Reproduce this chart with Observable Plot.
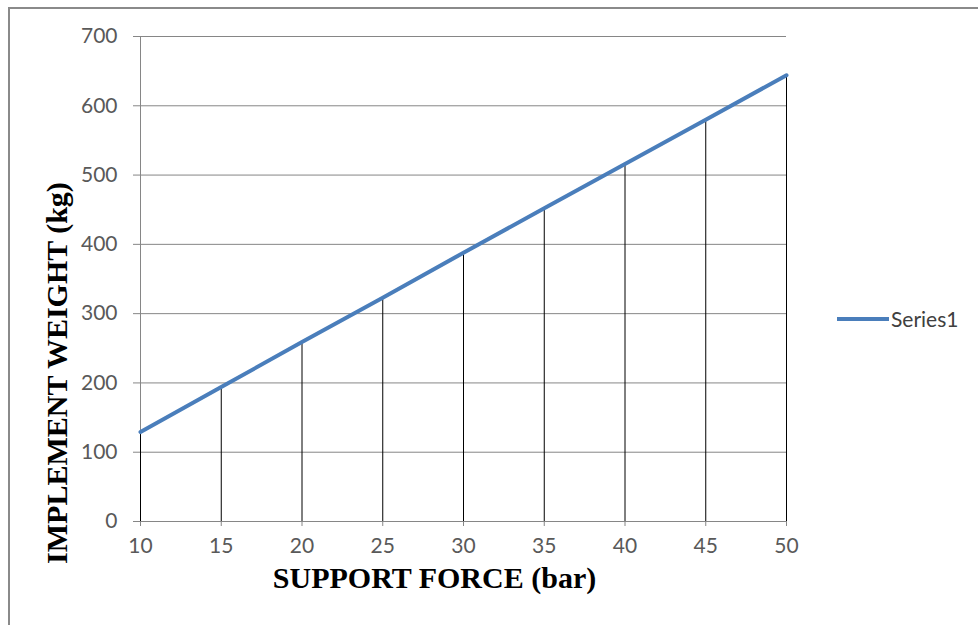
<!DOCTYPE html>
<html>
<head>
<meta charset="utf-8">
<script src="https://cdn.jsdelivr.net/npm/d3@7"></script>
<script src="https://cdn.jsdelivr.net/npm/@observablehq/plot@0.6"></script>
<style>
  html, body { margin: 0; padding: 0; background: #fff; }
  #wrap { position: relative; width: 978px; height: 625px; overflow: hidden; }
  #frame { position: absolute; left: 8px; top: 7px; width: 1000px; height: 700px; border-left: 2px solid #8a8a8a; border-top: 2px solid #8a8a8a; box-sizing: border-box; }
  #legend { position: absolute; left: 837px; top: 306px; display: flex; align-items: center; font-family: Lato, "Open Sans", sans-serif; font-size: 21px; color: #404040; }
  #legend .sw { width: 52px; height: 4px; background: #4a7ebb; margin-right: 2px; }
  svg { position: absolute; left: 0; top: 0; }
</style>
</head>
<body>
<div id="wrap">
  <div id="frame"></div>
  <div id="chart"></div>
  <div id="legend"><span class="sw"></span><span>Series1</span></div>
</div>
<script>
const force = [10, 15, 20, 25, 30, 35, 40, 45, 50];
const weight = [129, 194, 259, 323, 388, 452, 516, 580, 644];
const xTicks = [10, 15, 20, 25, 30, 35, 40, 45, 50];
const yTicks = [0, 100, 200, 300, 400, 500, 600, 700];
const seriesName = "Series1";
const xTitle = "SUPPORT FORCE (bar)";
const yTitle = "IMPLEMENT WEIGHT (kg)";

const data = force.map((f, i) => ({force: f, weight: weight[i], series: seriesName}));
const serif = "'Liberation Serif', 'Times New Roman', serif";

const chart = Plot.plot({
  width: 978,
  height: 625,
  marginLeft: 140,
  marginRight: 192,
  marginTop: 36,
  marginBottom: 104,
  style: {background: "transparent", fontFamily: "Lato, 'Open Sans', sans-serif", overflow: "visible"},
  x: {domain: [10, 50]},
  y: {domain: [0, 700]},
  marks: [
    Plot.gridY(yTicks, {stroke: "#868686", strokeOpacity: 1, strokeWidth: 1}),
    Plot.axisY({ticks: yTicks, tickSize: 7, tickPadding: 16, fontSize: 21, fill: "#595959", stroke: "#868686", label: null}),
    Plot.axisX({ticks: xTicks, tickSize: 5, tickPadding: 12, fontSize: 21, fill: "#595959", stroke: "#868686", label: null}),
    Plot.ruleX([10], {stroke: "#868686"}),
    Plot.ruleY([0], {stroke: "#868686"}),
    Plot.ruleX(data, {x: "force", y1: 0, y2: "weight", stroke: "#000", strokeWidth: 1}),
    Plot.line(data, {x: "force", y: "weight", stroke: "#4a7ebb", strokeWidth: 4}),
    Plot.text([xTitle], {frameAnchor: "bottom", textAnchor: "middle", lineAnchor: "middle", dx: -29, dy: 57, fontSize: 30, fontWeight: "bold", fontFamily: serif, fill: "#000"}),
    Plot.text([yTitle], {frameAnchor: "left", textAnchor: "middle", lineAnchor: "middle", dx: -83, dy: 94, rotate: -90, fontSize: 30, fontWeight: "bold", fontFamily: serif, fill: "#000"})
  ]
});
document.getElementById("chart").appendChild(chart);
</script>
</body>
</html>
